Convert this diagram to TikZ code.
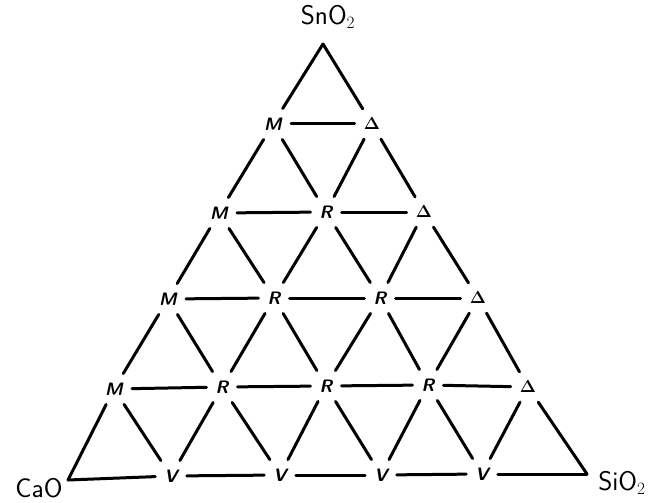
\documentclass[tikz,border=0pt]{standalone}
\usepackage{amsmath}
\begin{document}
\begin{tikzpicture}[x=1pt,y=-1pt,
  lab/.style={font=\sffamily\bfseries\itshape\fontsize{18}{18}\selectfont, inner sep=9pt},
  vert/.style={font=\sffamily\fontsize{27}{27}\selectfont, inner sep=1pt},
  edge/.style={line width=3pt, line cap=round}]
\useasboundingbox (0,0) rectangle (654,503);
% vertices (unlabelled lattice corners)
\coordinate (n-0-0) at (323,44);
\coordinate (n-5-0) at (68,480);
\coordinate (n-5-5) at (587,474);
% row 1
\node[lab] (n-1-0) at (273,124) {M};
\node[lab] (n-1-1) at (372,124) {$\boldsymbol{\Delta}$};
% row 2
\node[lab] (n-2-0) at (219,213) {M};
\node[lab] (n-2-1) at (326,212) {R};
\node[lab] (n-2-2) at (424,212) {$\boldsymbol{\Delta}$};
% row 3
\node[lab] (n-3-0) at (168,299) {M};
\node[lab] (n-3-1) at (274,298) {R};
\node[lab] (n-3-2) at (380,298) {R};
\node[lab] (n-3-3) at (478,298) {$\boldsymbol{\Delta}$};
% row 4
\node[lab] (n-4-0) at (114,389) {M};
\node[lab] (n-4-1) at (222,387) {R};
\node[lab] (n-4-2) at (326,386) {R};
\node[lab] (n-4-3) at (428,385) {R};
\node[lab] (n-4-4) at (528,387) {$\boldsymbol{\Delta}$};
% row 5
\node[lab] (n-5-1) at (171,476) {V};
\node[lab] (n-5-2) at (280,475) {V};
\node[lab] (n-5-3) at (381,475) {V};
\node[lab] (n-5-4) at (482,474) {V};
% corner labels
\node[vert] (sno) at (328,17) {SnO$_2$};
\node[vert] (cao) at (39,488) {CaO};
\node[vert] (sio) at (622,483) {SiO$_2$};
% horizontal edges
\foreach \k in {1,...,5}{
  \pgfmathtruncatemacro{\km}{\k-1}
  \foreach \j in {0,...,\km}{
    \pgfmathtruncatemacro{\jn}{\j+1}
    \draw[edge] (n-\k-\j) -- (n-\k-\jn);
  }
}
% diagonal edges
\foreach \k in {0,...,4}{
  \pgfmathtruncatemacro{\kn}{\k+1}
  \foreach \j in {0,...,\k}{
    \pgfmathtruncatemacro{\jn}{\j+1}
    \draw[edge] (n-\k-\j) -- (n-\kn-\j);
    \draw[edge] (n-\k-\j) -- (n-\kn-\jn);
  }
}
\end{tikzpicture}
\end{document}
